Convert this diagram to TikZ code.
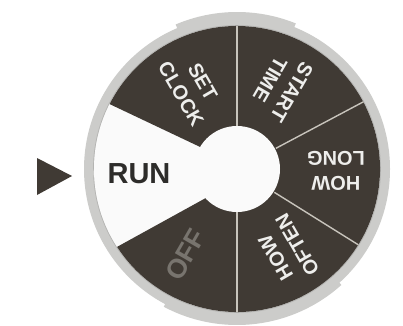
\documentclass[tikz,border=0pt]{standalone}
\usepackage{fontspec}
\setmainfont{Liberation Sans}
\usetikzlibrary{calc}
\definecolor{dialdark}{RGB}{64,58,52}
\definecolor{ringgray}{RGB}{204,204,202}
\definecolor{ringedge}{RGB}{180,180,178}
\definecolor{divider}{RGB}{200,196,188}
\definecolor{labelwhite}{RGB}{238,238,236}
\definecolor{offgray}{RGB}{120,116,110}
\definecolor{runblack}{RGB}{45,44,42}
\definecolor{facewhite}{RGB}{250,250,250}
\tikzset{
  smalllabel/.style={text=labelwhite, font=\bfseries\fontsize{20}{25}\selectfont, align=center, inner sep=0pt},
  biglabel/.style={font=\bfseries\fontsize{29}{32}\selectfont, inner sep=0pt},
  dividerline/.style={draw=divider, line width=1.4pt},
}
\begin{document}
\begin{tikzpicture}[x=1pt,y=1pt]
\useasboundingbox (0,0) rectangle (403,325);
\fill[white] (0,0) rectangle (403,325);
\coordinate (c) at (237,156);
% outer ring
\fill[ringgray] (c) circle (153pt);
\fill[ringgray] (c) -- ($(c)+(68:157pt)$) arc[start angle=68,end angle=113,radius=157pt] -- cycle;
\fill[ringgray] (c) -- ($(c)+(242:156pt)$) arc[start angle=242,end angle=312,radius=156pt] -- cycle;
\draw[ringedge, line width=0.8pt] (c) circle (143.5pt);
% left detent
\fill[ringgray] (97,152) ellipse (4pt and 6pt);
% face
\fill[facewhite] (c) circle (143pt);
\coordinate (apex) at (253,153);
\fill[dialdark] (apex) -- ($(c)+(213:143pt)$) arc[start angle=213,end angle=513,radius=143pt] -- cycle;
% hub hole
\fill[facewhite] (c) circle (43pt);
% dividers
\draw[dividerline] ($(c)+(90:43pt)$) -- ($(c)+(90:143pt)$);
\draw[dividerline] ($(c)+(28:44pt)$) -- ($(c)+(28:143pt)$);
\draw[dividerline] ($(c)+(-32:44pt)$) -- ($(c)+(-32:143pt)$);
\draw[dividerline] ($(c)+(-90:43pt)$) -- ($(c)+(-90:143pt)$);
% labels
\node[smalllabel, rotate=-60] (setclock) at ($(c)+(119:93pt)$) {SET\\CLOCK};
\node[smalllabel, rotate=-120] (starttime) at ($(c)+(62:94pt)$) {START\\TIME};
\node[smalllabel, rotate=180] (howlong) at ($(c)+(-1:99pt)$) {HOW\\LONG};
\node[smalllabel, rotate=120] (howoften) at ($(c)+(-59:96pt)$) {HOW\\OFTEN};
\node[biglabel, text=offgray, font=\bfseries\fontsize{27}{30}\selectfont, rotate=60] (off) at ($(c)+(239:100pt)$) {OFF};
\node[biglabel, text=runblack] (run) at (139,151) {RUN};
% pointer
\coordinate (p1) at (37,167);
\coordinate (p2) at (37,130);
\coordinate (p3) at (72,149);
\fill[dialdark] (p1) -- (p3) -- (p2) -- cycle;
\end{tikzpicture}
\end{document}
